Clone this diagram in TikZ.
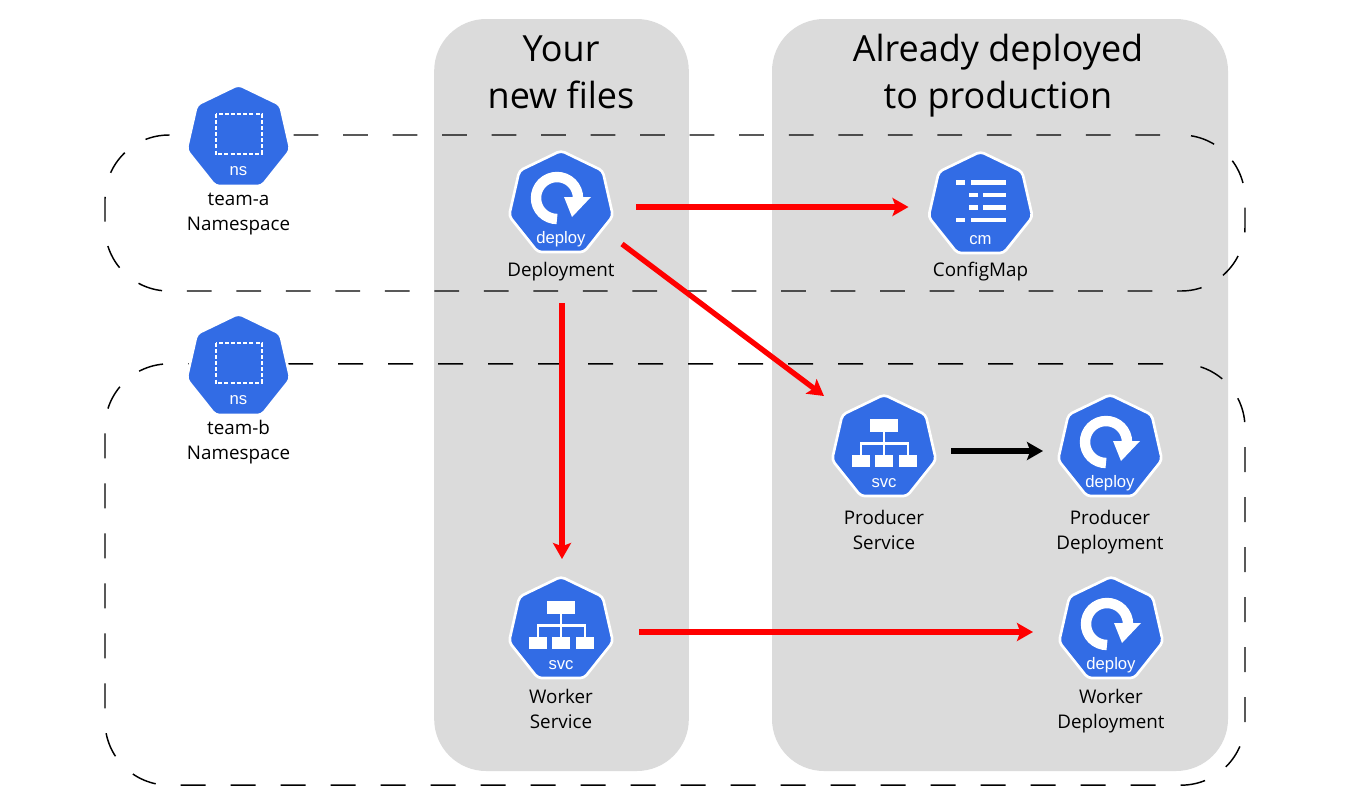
\documentclass[tikz,border=0pt]{standalone}
\usepackage{fontspec}
\setmainfont{Open Sans}
\newfontfamily\glyphfont{Liberation Sans}
\usepackage{xcolor}
\usetikzlibrary{arrows.meta,positioning,shapes.geometric}
\definecolor{panelgray}{HTML}{DBDBDB}
\definecolor{kubeblue}{HTML}{326CE5}

\begin{document}
\begin{tikzpicture}[x=0.75pt, y=-0.75pt,
  panel/.style={fill=panelgray, rounded corners=39pt, minimum height=564pt, inner sep=0},
  title/.style={align=center, font=\fontsize{27}{35}\selectfont},
  zone/.style={draw=black, line width=1.1pt, rounded corners=48pt, inner sep=0},
  kube/.style={regular polygon, regular polygon sides=7, minimum size=80pt, inner sep=0, outer sep=0,
    fill=kubeblue, draw=white, line width=2pt, rounded corners=3pt},
  kind/.style={white, font=\glyphfont\fontsize{12.5}{15}\selectfont},
  caption/.style={align=center, font=\fontsize{14.1}{18.8}\selectfont, below=#1},
  arr/.style={-{Stealth[length=12pt, width=13.5pt, inset=2.5pt]}, line width=4pt, red},
  deployglyph/.pic={
    \draw[white, line width=7.8pt] (-4,15) arc[start angle=90, end angle=360, radius=21];
    \fill[white] (3,-7) -- (30,-7) -- (11,13) -- cycle;
    \node[kind] at (0,35) {deploy};
  },
  svcglyph/.pic={
    \fill[white] (-13.7,-28.7) rectangle (14,-16.3);
    \foreach \x in {-32,-8.7,15} \fill[white] (\x,7) rectangle ++(17.5,12.3);
    \draw[white, line width=1.8pt] (0,-16.3) -- (0,7) (-23.3,7) -- (-23.3,-4.7) -- (23.7,-4.7) -- (23.7,7);
    \node[kind] at (0,35) {svc};
  },
  cmglyph/.pic={
    \foreach \y in {-25,12.5} {
      \fill[white] (-24.5,\y) rectangle ++(9,4.7);
      \fill[white] (-9.5,\y) rectangle (25.5,\y+4.7);
    }
    \foreach \y in {-12.3,0} {
      \fill[white] (-11.8,\y) rectangle ++(9,4.7);
      \fill[white] (2.8,\y) rectangle (25.5,\y+4.7);
    }
    \node[kind] at (0,35) {cm};
  },
  nsglyph/.pic={
    \draw[white, line width=1.3pt, dash pattern=on 3pt off 1.6pt] (-22.8,-24.3) rectangle (23.2,16);
    \node[kind] at (0,33) {ns};
  }]
\useasboundingbox (0,0) rectangle (1364,801);

% panels
\node[panel, minimum width=191pt] (newfiles) at (561.5,395) {};
\node[panel, minimum width=342pt] (deployed) at (1000,395) {};
\node[title] (newtitle) at (561,72) {Your\\new files};
\node[title] (deployedtitle) at (998,75.5) {Already deployed\\to production};

% namespaces
\node[zone, minimum width=855pt, minimum height=117pt, dash pattern=on 18.57pt off 18.57pt, dash phase=21.5pt] (teama) at (675,213) {};
\node[zone, minimum width=855pt, minimum height=316pt, dash pattern=on 18.75pt off 18.75pt, dash phase=24pt] (teamb) at (675,574.5) {};

% icons
\node[kube] (nsa) at (238.5,138) {};
\node[kube] (nsb) at (238.5,367) {};
\node[kube] (dep) at (561,204) {};
\node[kube] (cm) at (980.5,205) {};
\node[kube] (ps) at (884,448) {};
\node[kube] (pd) at (1110,448) {};
\node[kube] (ws) at (561,630) {};
\node[kube] (wd) at (1111,630) {};
\pic at (nsa.center) {nsglyph};
\pic at (nsb.center) {nsglyph};
\pic at (dep.center) {deployglyph};
\pic at (cm.center) {cmglyph};
\pic at (ps.center) {svcglyph};
\pic at (pd.center) {deployglyph};
\pic at (ws.center) {svcglyph};
\pic at (wd.center) {deployglyph};

% captions
\node[caption=1.5pt] (nsalabel) at (nsa.south) {team-a\\Namespace};
\node[caption=0pt] (nsblabel) at (nsb.south) {team-b\\Namespace};
\node[caption=3.75pt] (deplabel) at (dep.south) {Deployment};
\node[caption=3pt] (cmlabel) at (cm.south) {ConfigMap};
\node[caption=6.75pt] (pslabel) at (ps.south) {Producer\\Service};
\node[caption=6.75pt] (pdlabel) at (pd.south) {Producer\\Deployment};
\node[caption=4.5pt] (wslabel) at (ws.south) {Worker\\Service};
\node[caption=4.5pt] (wdlabel) at (wd.south) {Worker\\Deployment};

% connectors
\draw[arr] ([shift={(75,3)}]dep.center) -- ([shift={(-72,2)}]cm.center);
\draw[arr] ([shift={(61,40)}]dep.center) -- ([shift={(-60,-52)}]ps.center);
\draw[arr] ([shift={(1,99)}]dep.center) -- ([shift={(1,-71)}]ws.center);
\draw[arr] ([shift={(78,2)}]ws.center) -- ([shift={(-78,2)}]wd.center);
\draw[arr, black] ([shift={(67,3)}]ps.center) -- ([shift={(-67,3)}]pd.center);
\end{tikzpicture}
\end{document}
